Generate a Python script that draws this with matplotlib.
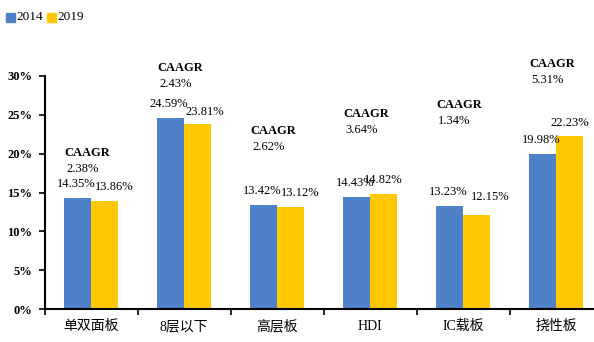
import matplotlib
matplotlib.use("Agg")
import matplotlib.pyplot as plt
import numpy as np

categories = ["单双面板", "8层以下", "高层板", "HDI", "IC载板", "挠性板"]
v2014 = [14.35, 24.59, 13.42, 14.43, 13.23, 19.98]
v2019 = [13.86, 23.81, 13.12, 14.82, 12.15, 22.23]
caagr = ["2.38%", "2.43%", "2.62%", "3.64%", "1.34%", "5.31%"]
yticks = [0, 5, 10, 15, 20, 25, 30]
ytick_labels = ["0%", "5%", "10%", "15%", "20%", "25%", "30%"]
series_names = ["2014", "2019"]

# layout: heights (in axis units) where CAAGR notes sit, and label offsets (px)
caagr_y = [20.1, 31.0, 22.9, 25.1, 26.3, 31.5]
lab19_dx = [10, 7, 10, 0, 14, 0]
lab19_dy = [14, 12, 14, 14, 18, 13]

fam = ["Liberation Serif", "Noto Sans CJK SC"]
plt.rcParams['font.family'] = fam

W, H = 594, 342
fig = plt.figure(figsize=(W / 100, H / 100), dpi=100)
left, right = 44.5, 602.5
bottom, top = 309, 76
ax = fig.add_axes([left / W, (H - bottom) / H, (right - left) / W, (bottom - top) / H])

blue = "#4E81C8"
yellow = "#FFC800"
x = np.arange(len(categories))
bw = 0.285
ax.bar(x - bw / 2, v2014, bw, color=blue, label=series_names[0])
ax.bar(x + bw / 2, v2019, bw, color=yellow, label=series_names[1])

ax.set_xlim(-0.5, len(categories) - 0.5)
ax.set_ylim(0, 30)
ax.set_yticks(yticks)
ax.set_yticklabels(ytick_labels, fontsize=9, fontweight="bold")
ax.set_xticks(np.arange(-0.5, len(categories), 1.0), minor=False)
ax.set_xticklabels([])
ax.set_xticks(x, minor=True)
ax.set_xticklabels(categories, minor=True, fontsize=10)
ax.tick_params(axis='x', which='minor', length=0, pad=8)
ax.tick_params(axis='x', which='major', length=4, width=1.2, direction='out')
ax.tick_params(axis='y', length=4, width=1.2, direction='out', pad=5)

for s in ["top", "right"]:
    ax.spines[s].set_visible(False)
for s in ["left", "bottom"]:
    ax.spines[s].set_linewidth(1.5)

for i in range(len(categories)):
    ax.annotate(f"{v2014[i]:.2f}%", (x[i] - bw / 2, v2014[i]), xytext=(-2, 14),
                textcoords="offset pixels", ha="center", va="center", fontsize=9)
    ax.annotate(f"{v2019[i]:.2f}%", (x[i] + bw / 2, v2019[i]),
                xytext=(lab19_dx[i], lab19_dy[i]),
                textcoords="offset pixels", ha="center", va="center", fontsize=9)
    ax.text(x[i] - 0.29, caagr_y[i], "CAAGR", fontsize=9, fontweight="bold",
            ha="left", va="center", clip_on=False)
    ax.annotate(caagr[i], (x[i] - 0.29, caagr_y[i]), xytext=(2, -16),
                textcoords="offset pixels", ha="left", va="center", fontsize=9,
                annotation_clip=False)

# legend
fig.patches.append(plt.Rectangle((6 / W, (H - 22) / H), 9 / W, 9 / H, color=blue,
                                 transform=fig.transFigure, figure=fig))
fig.text(16 / W, (H - 17.5) / H, series_names[0], fontsize=9.5, va="center", ha="left")
fig.patches.append(plt.Rectangle((47 / W, (H - 22) / H), 9 / W, 9 / H,
                                 color=yellow, transform=fig.transFigure, figure=fig))
fig.text(57 / W, (H - 17.5) / H, series_names[1], fontsize=9.5, va="center", ha="left")

fig.savefig("out.png", dpi=100)
